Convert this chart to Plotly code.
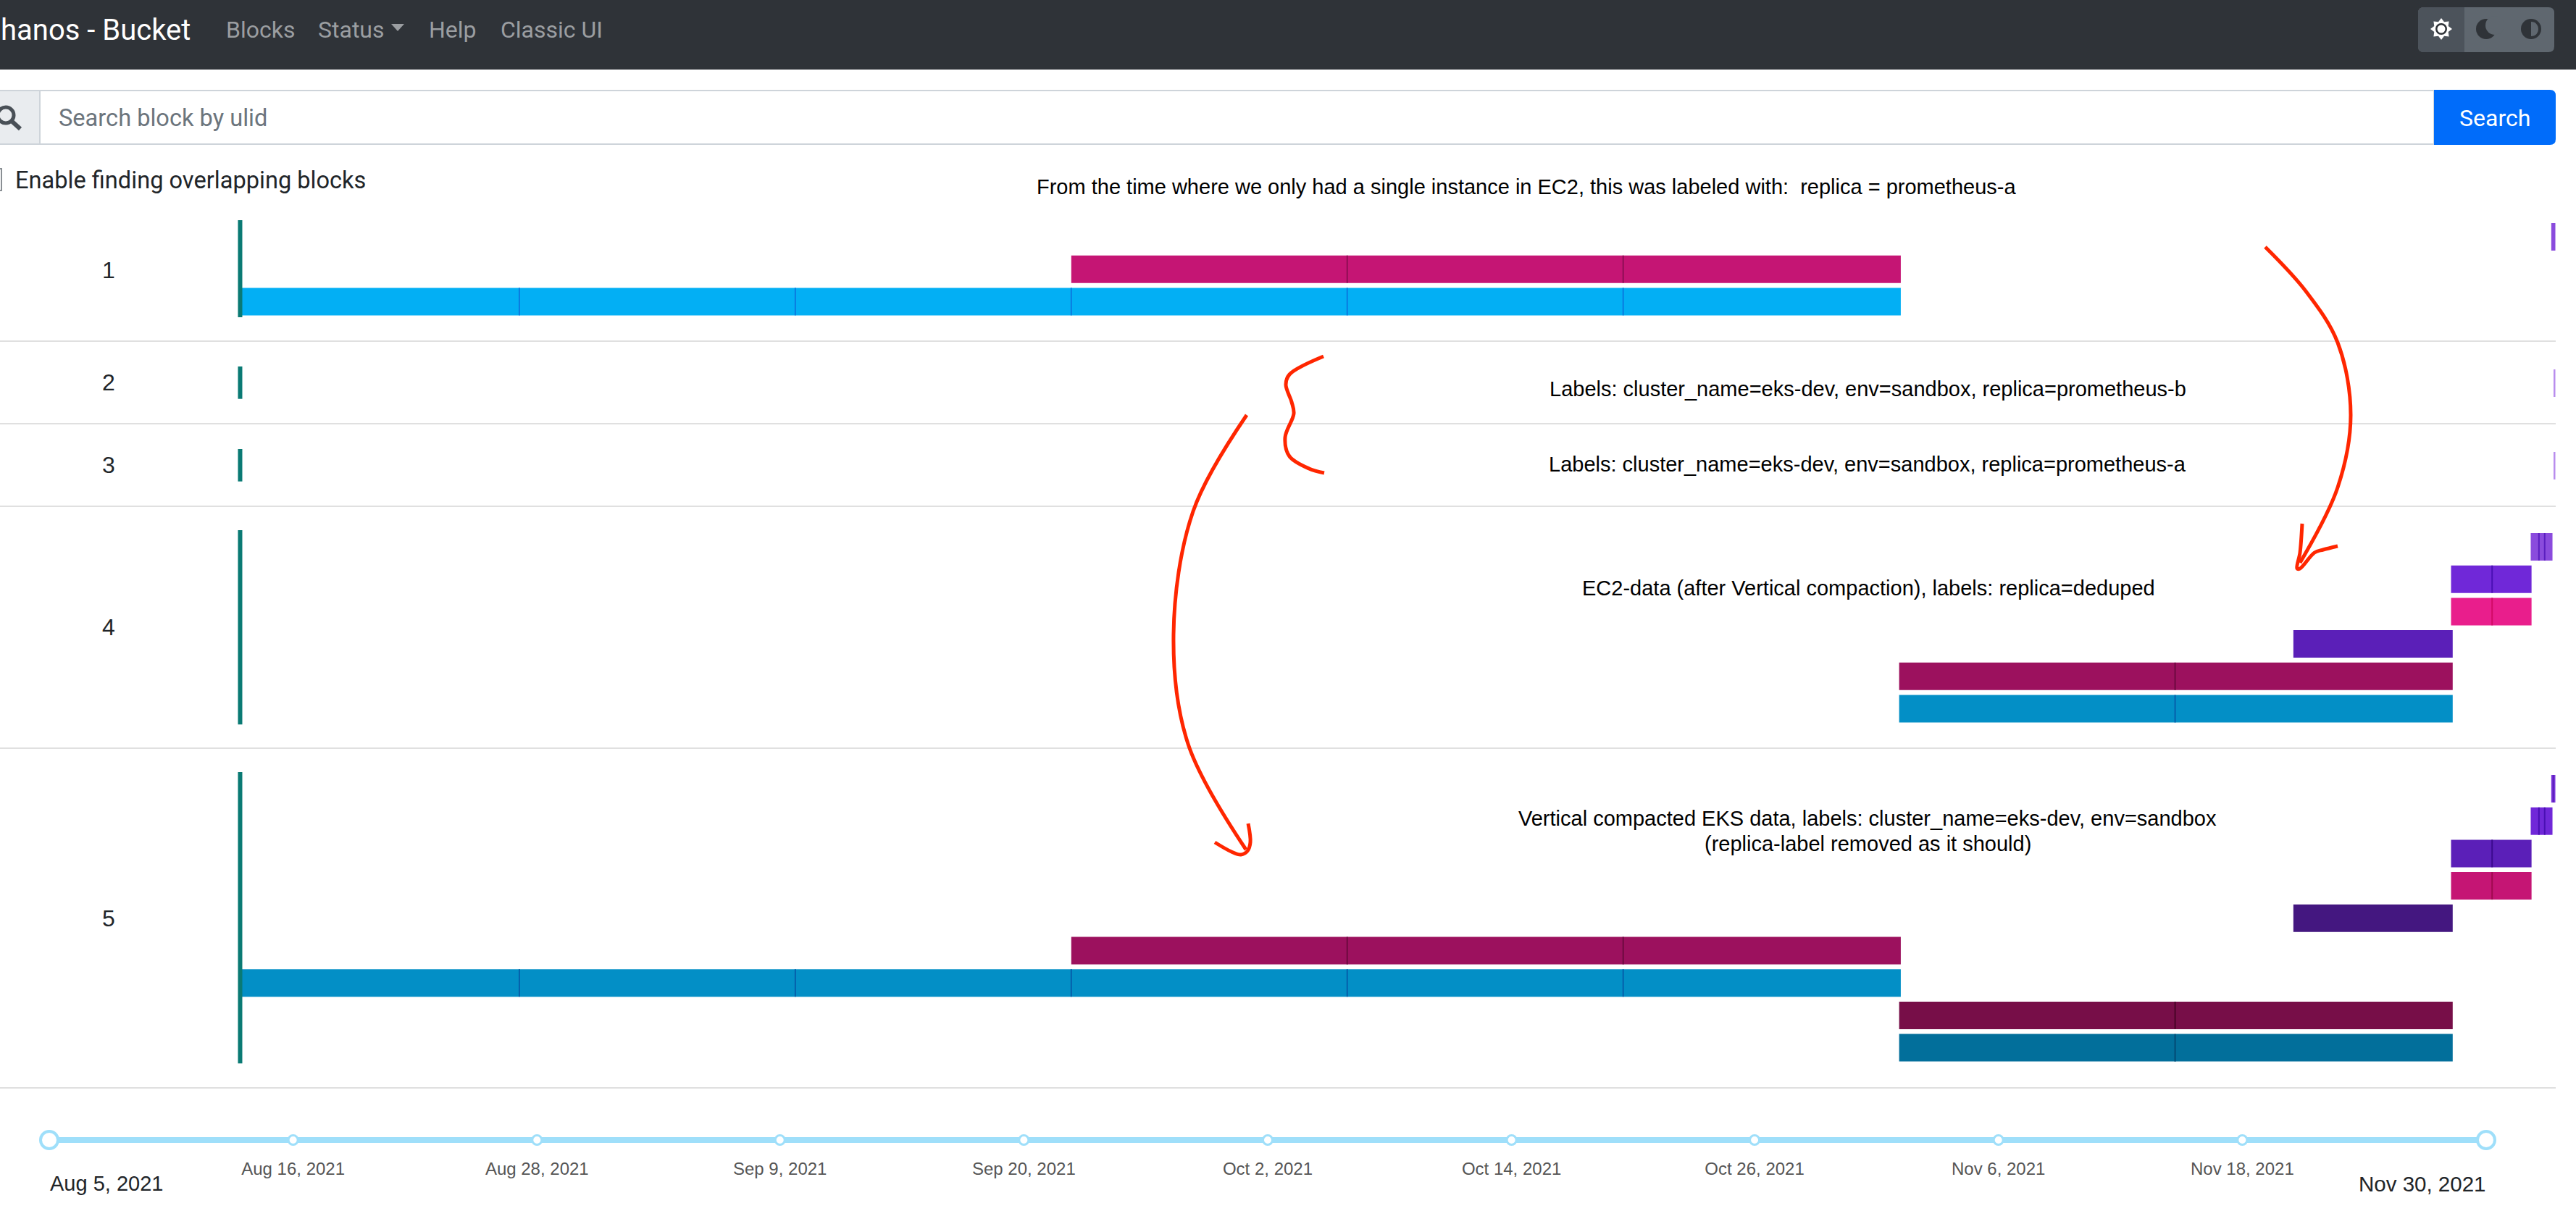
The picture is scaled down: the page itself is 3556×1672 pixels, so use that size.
# Thanos bucket viewer screenshot, blocks per compaction row with hand drawn notes
import math
import pandas as pd
import plotly.graph_objects as go

# Blocks of each table row: lane inside the row and time span
row1_lanes = [0, 1, 1, 1, 2, 2, 2, 2, 2, 2]
row1_starts = ["2021-11-30 02:00", "2021-09-16", "2021-09-30", "2021-10-14", "2021-08-04 20:00",
               "2021-08-19", "2021-09-02", "2021-09-16", "2021-09-30", "2021-10-14"]
row1_ends = ["2021-11-30 07:00", "2021-09-30", "2021-10-14", "2021-10-28 02:00", "2021-08-19",
             "2021-09-02", "2021-09-16", "2021-09-30", "2021-10-14", "2021-10-28 02:00"]

row2_lanes = [0]
row2_starts = ["2021-11-30 05:30"]
row2_ends = ["2021-11-30 07:00"]

row3_lanes = [0]
row3_starts = ["2021-11-30 05:30"]
row3_ends = ["2021-11-30 07:00"]

row4_lanes = [0, 0, 0, 1, 1, 2, 2, 3, 4, 4, 5, 5]
row4_starts = ["2021-11-29 01:00", "2021-11-29 11:00", "2021-11-29 18:00", "2021-11-25",
               "2021-11-27 02:00", "2021-11-25", "2021-11-27 02:00", "2021-11-17", "2021-10-28",
               "2021-11-11", "2021-10-28", "2021-11-11"]
row4_ends = ["2021-11-29 11:00", "2021-11-29 18:00", "2021-11-30 03:30", "2021-11-27 02:00",
             "2021-11-29 02:00", "2021-11-27 02:00", "2021-11-29 02:00", "2021-11-25 02:00",
             "2021-11-11", "2021-11-25 02:00", "2021-11-11", "2021-11-25 02:00"]

row5_lanes = [0, 0, 1, 1, 1, 2, 2, 3, 3, 4, 5, 5, 5, 6, 6, 6, 6, 6, 6, 7, 7, 8, 8]
row5_starts = ["2021-11-30 02:00", "2021-11-30 04:30", "2021-11-29 01:00", "2021-11-29 11:00",
               "2021-11-29 18:00", "2021-11-25", "2021-11-27 02:00", "2021-11-25",
               "2021-11-27 02:00", "2021-11-17", "2021-09-16", "2021-09-30", "2021-10-14",
               "2021-08-04 20:00", "2021-08-19", "2021-09-02", "2021-09-16", "2021-09-30",
               "2021-10-14", "2021-10-28", "2021-11-11", "2021-10-28", "2021-11-11"]
row5_ends = ["2021-11-30 04:30", "2021-11-30 07:00", "2021-11-29 11:00", "2021-11-29 18:00",
             "2021-11-30 03:30", "2021-11-27 02:00", "2021-11-29 02:00", "2021-11-27 02:00",
             "2021-11-29 02:00", "2021-11-25 02:00", "2021-09-30", "2021-10-14",
             "2021-10-28 02:00", "2021-08-19", "2021-09-02", "2021-09-16", "2021-09-30",
             "2021-10-14", "2021-10-28 02:00", "2021-11-11", "2021-11-25 02:00", "2021-11-11",
             "2021-11-25 02:00"]

row_names = ["1", "2", "3", "4", "5"]
first_block = "2021-08-04 20:00"

# Time slider
slider_start = "2021-08-05"
slider_end = "2021-11-30 10:00"
slider_ticks = ["2021-08-16 18:00", "2021-08-28 12:00", "2021-09-09 05:00",
                "2021-09-20 23:00", "2021-10-02 17:00", "2021-10-14 11:00",
                "2021-10-26 04:00", "2021-11-06 22:00", "2021-11-18 16:00"]
slider_labels = ["Aug 16, 2021", "Aug 28, 2021", "Sep 9, 2021", "Sep 20, 2021", "Oct 2, 2021",
                 "Oct 14, 2021", "Oct 26, 2021", "Nov 6, 2021", "Nov 18, 2021"]

W, H = 3556, 1672

# Layout of the block table, page pixels
row_tops = {1: 308, 2: 510, 3: 624, 4: 736, 5: 1070}
row_lane_count = {1: 3, 2: 1, 3: 1, 4: 6, 5: 9}
row_label_y = {1: 373, 2: 528, 3: 642, 4: 866, 5: 1268}
row_lines = [471, 585, 699, 1033, 1502]
LANE_PITCH = 44.7
BAR_H = 38

# fill, divider
lane_colors = {
    (1, 0): ("#8a4bdd", "#5b1fc0"), (1, 1): ("#c51574", "#8f0e55"), (1, 2): ("#03aff4", "#0a7be0"),
    (2, 0): ("#b98ded", "#b98ded"), (3, 0): ("#b98ded", "#b98ded"),
    (4, 0): ("#8a4bdd", "#5b1fc0"), (4, 1): ("#7028d8", "#4a10b4"), (4, 2): ("#e91e8c", "#d20a66"),
    (4, 3): ("#5b1fb8", "#3b0a8f"), (4, 4): ("#9c115e", "#6e0a40"), (4, 5): ("#038fc6", "#0560ab"),
    (5, 0): ("#7b35dc", "#5b1fb8"), (5, 1): ("#7028d8", "#4a10b4"), (5, 2): ("#5b1fb8", "#3b0a8f"),
    (5, 3): ("#c51574", "#a00a50"), (5, 4): ("#441780", "#2c0c5c"), (5, 5): ("#9c115e", "#6e0a40"),
    (5, 6): ("#038fc6", "#0560ab"), (5, 7): ("#770e48", "#4a0528"), (5, 8): ("#026f9b", "#034a75"),
}

RED = "#ff2600"
NAV = "#2f3338"
NAV_TEXT = "#9b9ea1"
SLIDER = "#9fdffa"
SANS = "Liberation Sans"
UI = "Roboto"

frames = []
for row, lanes, starts, ends in [(1, row1_lanes, row1_starts, row1_ends),
                                 (2, row2_lanes, row2_starts, row2_ends),
                                 (3, row3_lanes, row3_starts, row3_ends),
                                 (4, row4_lanes, row4_starts, row4_ends),
                                 (5, row5_lanes, row5_starts, row5_ends)]:
    frames.append(pd.DataFrame({
        "row": row,
        "lane": lanes,
        "start": pd.to_datetime(starts, format="ISO8601"),
        "end": pd.to_datetime(ends, format="ISO8601"),
    }))
blocks = pd.concat(frames, ignore_index=True)


def lane_y(row, lane):
    return row_tops[row] + lane * LANE_PITCH + BAR_H / 2


fig = go.Figure()

# Blocks, one bar trace per lane
for (row, lane), lane_blocks in blocks.groupby(["row", "lane"]):
    lane_blocks = lane_blocks.sort_values("start")
    fill, divider = lane_colors[(row, lane)]
    y = lane_y(row, lane)
    fig.add_trace(go.Bar(
        orientation="h",
        y=[y] * len(lane_blocks),
        base=lane_blocks["start"].dt.strftime("%Y-%m-%d %H:%M").tolist(),
        x=((lane_blocks["end"] - lane_blocks["start"]).dt.total_seconds() * 1000).tolist(),
        width=BAR_H,
        marker=dict(color=fill, line=dict(width=0)),
        xaxis="x",
        yaxis="y",
    ))
    # Darker tick where two blocks touch
    touching = lane_blocks["start"][lane_blocks["start"].isin(lane_blocks["end"])]
    for when in touching:
        fig.add_trace(go.Scatter(
            x=[when, when],
            y=[y - BAR_H / 2, y + BAR_H / 2],
            mode="lines",
            line=dict(color=divider, width=2),
            xaxis="x",
            yaxis="y",
        ))

# Teal bar at the start of every row
for row in row_tops:
    fig.add_trace(go.Scatter(
        x=[first_block, first_block],
        y=[row_tops[row] - 4, row_tops[row] + row_lane_count[row] * LANE_PITCH - 4],
        mode="lines",
        line=dict(color="#0a7a74", width=6),
        xaxis="x",
        yaxis="y",
    ))

# Slider on its own time axis
fig.add_trace(go.Scatter(
    x=[slider_start, slider_end],
    y=[1574, 1574],
    mode="lines",
    line=dict(color=SLIDER, width=8),
    xaxis="x2",
    yaxis="y",
))
fig.add_trace(go.Scatter(
    x=slider_ticks,
    y=[1574] * len(slider_ticks),
    mode="markers",
    marker=dict(size=13, color="white", line=dict(color=SLIDER, width=3)),
    xaxis="x2",
    yaxis="y",
))
fig.add_trace(go.Scatter(
    x=slider_ticks,
    y=[1616] * len(slider_ticks),
    mode="text",
    text=slider_labels,
    textposition="middle center",
    textfont=dict(family=SANS, size=24, color="#555555"),
    xaxis="x2",
    yaxis="y",
))
fig.add_trace(go.Scatter(
    x=[slider_start, slider_end],
    y=[1574, 1574],
    mode="markers",
    marker=dict(size=24, color="white", line=dict(color=SLIDER, width=4)),
    xaxis="x2",
    yaxis="y",
))


# Hand drawn strokes, page pixels
def stroke(xs, ys):
    fig.add_trace(go.Scatter(
        x=xs,
        y=ys,
        mode="lines",
        line=dict(color=RED, width=5, shape="spline", smoothing=1),
        xaxis="x3",
        yaxis="y",
    ))


stroke([1721, 1647, 1620, 1640, 1720], [573, 706, 876, 1027, 1173])
stroke([1677, 1700, 1713, 1722, 1726, 1723], [1163, 1176, 1180, 1175, 1163, 1137])
stroke([1827, 1780, 1775, 1783, 1786, 1774, 1780, 1807, 1828],
       [492, 517, 531, 555, 571, 604, 630, 647, 653])
stroke([3127, 3183, 3227, 3245, 3227, 3175], [341, 402, 473, 573, 673, 777])
stroke([3178, 3175, 3171, 3175, 3195, 3207, 3227], [723, 763, 785, 785, 763, 759, 754])


def rect(x0, y0, x1, y1, fill, line_color=None, line_width=0):
    return dict(type="rect", xref="x3", yref="y", x0=x0, y0=y0, x1=x1, y1=y1,
                fillcolor=fill, line=dict(color=line_color, width=line_width), layer="below")


def circle(cx, cy, r, fill, line_color=None, line_width=0):
    return dict(type="circle", xref="x3", yref="y", x0=cx - r, y0=cy - r, x1=cx + r, y1=cy + r,
                fillcolor=fill, line=dict(color=line_color, width=line_width), layer="below")


def path(d, fill=None, line_color=None, line_width=0):
    return dict(type="path", xref="x3", yref="y", path=d, fillcolor=fill,
                line=dict(color=line_color, width=line_width), layer="below")


def rounded(x0, y0, x1, y1, r, left=True):
    # rounded on the right side, and on the left when asked
    d = f"M {x0 + (r if left else 0)},{y0} L {x1 - r},{y0} Q {x1},{y0} {x1},{y0 + r} "
    d += f"L {x1},{y1 - r} Q {x1},{y1} {x1 - r},{y1} L {x0 + (r if left else 0)},{y1} "
    if left:
        d += f"Q {x0},{y1} {x0},{y1 - r} L {x0},{y0 + r} Q {x0},{y0} {x0 + r},{y0} "
    return d + "Z"


# Sun outline for the theme switch
sun = []
for i in range(16):
    a = math.pi * i / 8
    r = 15 if i % 2 == 0 else 10.5
    sun.append(f"{3370 + r * math.sin(a):.1f},{40 - r * math.cos(a):.1f}")

shapes = [
    # page chrome
    rect(0, 0, W, 96, NAV),
    path(rounded(3338, 10, 3526, 72, 8), "#5f676f"),
    path("M 3346,10 L 3402,10 L 3402,72 L 3346,72 Q 3338,72 3338,64 L 3338,18 Q 3338,10 3346,10 Z",
         "#4c535b"),
    path("M " + " L ".join(sun) + " Z", "white"),
    circle(3370, 40, 8, NAV),
    circle(3370, 40, 5.5, "white"),
    circle(3432, 40, 14, NAV),
    circle(3444, 35, 13, "#5f676f"),
    circle(3494, 40, 14, NAV),
    path("M 3494,30 C 3507.3,30 3507.3,50 3494,50 Z", "#5f676f"),
    path("M 540,33 L 558,33 L 549,43 Z", NAV_TEXT),
    # search form
    rect(-10, 125, 3360, 199, "white", "#ced4da", 2),
    rect(-10, 125, 55, 199, "#e9ecef", "#ced4da", 2),
    circle(8, 159, 11, "rgba(0,0,0,0)", "#495057", 5),
    path("M 17,168 L 28,178", None, "#495057", 6),
    path(rounded(3360, 124, 3528, 200, 8, left=False), "#006cfa"),
    rect(-20, 233, 2, 263, "white", "#8a8f94", 2),
]
for y in row_lines:
    shapes.append(dict(type="line", xref="x3", yref="y", x0=0, x1=3528, y0=y, y1=y,
                       line=dict(color="#e0e0e0", width=2), layer="below"))


def label(x, y, text, size=29, color="black", family=SANS, anchor="center"):
    return dict(xref="x3", yref="y", x=x, y=y, text=text, showarrow=False, xanchor=anchor,
                yanchor="middle", borderpad=0, font=dict(family=family, size=size, color=color))


annotations = [
    label(0, 41, "hanos - Bucket", 40, "white", UI, "left"),
    label(311, 41, "Blocks", 32, NAV_TEXT, UI, "left"),
    label(438, 41, "Status", 32, NAV_TEXT, UI, "left"),
    label(591, 41, "Help", 32, NAV_TEXT, UI, "left"),
    label(690, 41, "Classic UI", 32, NAV_TEXT, UI, "left"),
    label(80, 163, "Search block by ulid", 32.6, "#6c757d", UI, "left"),
    label(3444, 163, "Search", 32, "white", UI),
    label(20, 249, "Enable finding overlapping blocks", 32.6, "#212529", UI, "left"),
    label(2107, 258, "From the time where we only had a single instance in EC2, this was labeled with:  replica = prometheus-a"),
    label(2578, 537, "Labels: cluster_name=eks-dev, env=sandbox, replica=prometheus-b"),
    label(2578, 641, "Labels: cluster_name=eks-dev, env=sandbox, replica=prometheus-a"),
    label(2579, 812, "EC2-data (after Vertical compaction), labels: replica=deduped"),
    label(2578, 1130, "Vertical compacted EKS data, labels: cluster_name=eks-dev, env=sandbox"),
    label(2578, 1165, "(replica-label removed as it should)"),
    label(68, 1634, "Aug 5, 2021", 29, "#212529", SANS, "left"),
    label(3433, 1634, "Nov 30, 2021", 29.5, "#212529", SANS, "right"),
]
for row, name in zip(row_tops, row_names):
    annotations.append(label(150, row_label_y[row], name, 32, "#212529"))

# Page pixels to time: the two time axes have their own scale
blocks_zero = pd.Timestamp("2021-08-05")
BLOCK_PX = 336
BLOCK_RATE = 27.21
slider_zero = pd.Timestamp(slider_start)
SLIDER_PX = 68
SLIDER_RATE = 28.65

fig.update_layout(
    width=W,
    height=H,
    margin=dict(l=0, r=0, t=0, b=0),
    plot_bgcolor="white",
    paper_bgcolor="white",
    showlegend=False,
    hovermode=False,
    barmode="overlay",
    shapes=shapes,
    annotations=annotations,
    xaxis=dict(
        type="date",
        domain=[0, 1],
        visible=False,
        range=[blocks_zero - pd.Timedelta(days=BLOCK_PX / BLOCK_RATE),
               blocks_zero + pd.Timedelta(days=(W - BLOCK_PX) / BLOCK_RATE)],
    ),
    xaxis2=dict(
        type="date",
        domain=[0, 1],
        visible=False,
        overlaying="x",
        range=[slider_zero - pd.Timedelta(days=SLIDER_PX / SLIDER_RATE),
               slider_zero + pd.Timedelta(days=(W - SLIDER_PX) / SLIDER_RATE)],
    ),
    xaxis3=dict(domain=[0, 1], visible=False, overlaying="x", range=[0, W]),
    yaxis=dict(domain=[0, 1], visible=False, range=[H, 0]),
)

fig.write_html(
    "out.html",
    config={"displayModeBar": False},
    post_script="document.body.style.margin='0';document.documentElement.style.overflow='hidden';",
)
